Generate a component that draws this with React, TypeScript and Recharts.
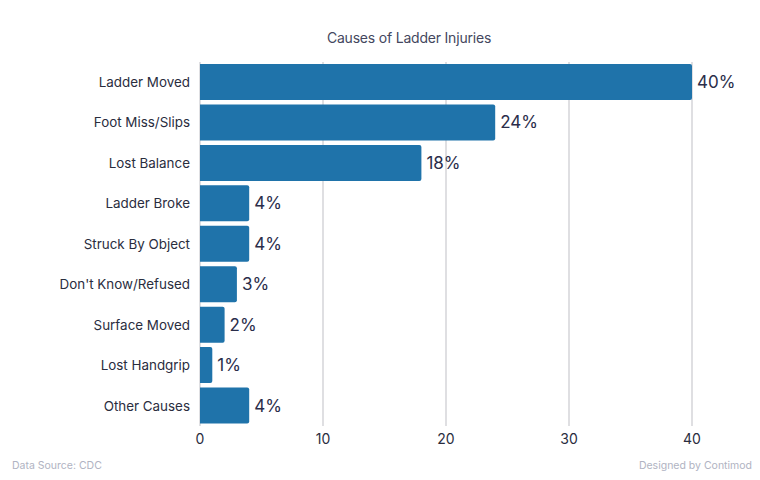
import React from "react";
import { BarChart, Bar, XAxis, YAxis, CartesianGrid, LabelList } from "recharts";

const categories = [
  "Ladder Moved",
  "Foot Miss/Slips",
  "Lost Balance",
  "Ladder Broke",
  "Struck By Object",
  "Don't Know/Refused",
  "Surface Moved",
  "Lost Handgrip",
  "Other Causes",
];
const values = [40, 24, 18, 4, 4, 3, 2, 1, 4];
const xTicks = [0, 10, 20, 30, 40];

const data = categories.map((c, i) => ({ name: c, value: values[i] }));

const FONT = "Inter, 'Noto Sans', sans-serif";

export default function App() {
  return (
    <div style={{ position: "absolute", left: 0, top: 0, width: 760, height: 480, background: "#fff", fontFamily: FONT }}>
      <div style={{ position: "absolute", left: 0, width: 818, top: 29, textAlign: "center", fontSize: 14, color: "#44475e", letterSpacing: -0.2 }}>
        Causes of Ladder Injuries
      </div>
      <BarChart
        width={760}
        height={480}
        data={data}
        layout="vertical"
        margin={{ top: 62, right: 68, bottom: 24, left: 0 }}
        barCategoryGap={2}
      >
        <CartesianGrid horizontal={false} stroke="#d4d4d8" strokeWidth={1.5} />
        <XAxis
          type="number"
          domain={[0, 40]}
          ticks={xTicks}
          axisLine={false}
          tickLine={false}
          tick={{ fill: "#2a2d3e", fontSize: 14, fontFamily: FONT }}
          height={30}
        />
        <YAxis
          type="category"
          dataKey="name"
          width={200}
          axisLine={false}
          tickLine={false}
          tickSize={0}
          tickMargin={10}
          tick={{ fill: "#2a2d3e", fontSize: 13.4, fontFamily: FONT }}
        />
        <Bar dataKey="value" fill="#1f73aa" radius={[0, 2, 2, 0]} isAnimationActive={false}>
          <LabelList
            dataKey="value"
            position="right"
            offset={5}
            formatter={(v: number) => `${v}%`}
            style={{ fill: "#2a2d4a", fontSize: 17, fontFamily: FONT }}
          />
        </Bar>
      </BarChart>
      <div style={{ position: "absolute", left: 12, top: 459, fontSize: 10.5, color: "#b0b3c2" }}>Data Source: CDC</div>
      <div style={{ position: "absolute", right: 8, top: 459, fontSize: 10.5, color: "#b0b3c2" }}>Designed by Contimod</div>
    </div>
  );
}
